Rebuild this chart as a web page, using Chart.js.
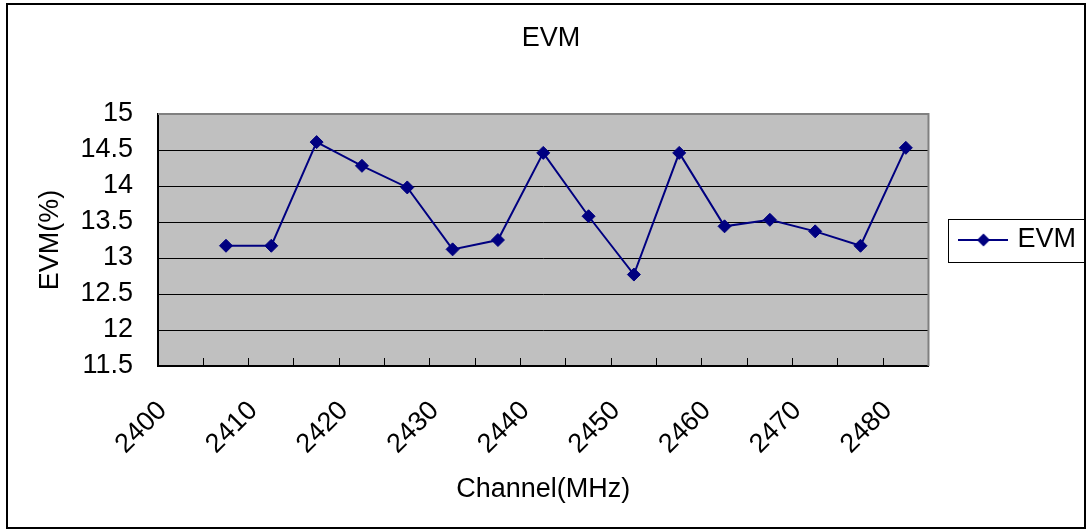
<!DOCTYPE html>
<html>
<head>
<meta charset="utf-8">
<script src="https://cdn.jsdelivr.net/npm/chart.js@4.4.0/dist/chart.umd.min.js"></script>
<style>
  html, body { margin: 0; padding: 0; background: #ffffff; }
  canvas { display: block; }
</style>
</head>
<body>
<canvas id="chart" width="1088" height="531"></canvas>
<script>
// ---- data ----
const channels = ['2400','2405','2410','2415','2420','2425','2430','2435','2440',
                  '2445','2450','2455','2460','2465','2470','2475','2480'];
const evmValues = [null, 13.17, 13.17, 14.61, 14.28, 13.98, 13.12, 13.25, 14.46,
                   13.58, 12.77, 14.46, 13.44, 13.53, 13.37, 13.17, 14.53];
const yMin = 11.5;
const yMax = 15;
const yStep = 0.5;
const seriesName = 'EVM';
const chartTitle = 'EVM';
const xTitle = 'Channel(MHz)';
const yTitle = 'EVM(%)';

// ---- styles ----
const FONT = "'Liberation Sans', Arial, sans-serif";
const NAVY = '#000080';
Chart.defaults.font.family = FONT;
Chart.defaults.font.size = 27;
Chart.defaults.color = '#000000';

// legend symbol: line with diamond
const legendSym = document.createElement('canvas');
legendSym.width = 50; legendSym.height = 16;
(function () {
  const g = legendSym.getContext('2d');
  g.strokeStyle = NAVY; g.lineWidth = 2;
  g.beginPath(); g.moveTo(0, 8); g.lineTo(50, 8); g.stroke();
  g.fillStyle = NAVY;
  g.beginPath(); g.moveTo(25, 1.5); g.lineTo(31.5, 8); g.lineTo(25, 14.5); g.lineTo(18.5, 8); g.closePath(); g.fill();
})();

const decor = {
  id: 'decor',
  beforeDraw(chart) {
    const {ctx, chartArea: a} = chart;
    ctx.save();
    ctx.fillStyle = '#ffffff';
    ctx.fillRect(0, 0, chart.width, chart.height);
    ctx.fillStyle = '#C0C0C0';
    ctx.fillRect(a.left, a.top, a.right - a.left, a.bottom - a.top);
    ctx.restore();
  },
  afterDraw(chart) {
    const {ctx, chartArea: a} = chart;
    ctx.save();
    ctx.strokeStyle = '#808080';
    ctx.lineWidth = 2;
    ctx.beginPath();
    ctx.moveTo(a.left, a.top); ctx.lineTo(a.right, a.top); ctx.lineTo(a.right, a.bottom);
    ctx.stroke();
    const lg = chart.legend;
    if (lg && lg.legendHitBoxes && lg.legendHitBoxes.length) {
      const h = lg.legendHitBoxes[0];
      ctx.strokeStyle = '#000000';
      ctx.lineWidth = 1;
      const cy = h.top + h.height / 2;
      ctx.strokeRect(Math.round(h.left - 15) + 0.5, Math.round(cy - 21.5) + 0.5,
                     Math.round(h.width + 24), 43);
    }
    ctx.strokeStyle = '#000000';
    ctx.lineWidth = 2;
    ctx.strokeRect(7, 4, 1078, 524);
    ctx.restore();
  }
};

new Chart(document.getElementById('chart'), {
  type: 'line',
  data: {
    labels: channels,
    datasets: [{
      label: seriesName,
      data: evmValues,
      borderColor: NAVY,
      backgroundColor: NAVY,
      borderWidth: 2,
      tension: 0,
      pointStyle: 'rectRot',
      pointRadius: 6.5,
      pointHoverRadius: 6.5,
      pointBackgroundColor: NAVY,
      pointBorderColor: NAVY,
      pointBorderWidth: 1
    }]
  },
  options: {
    responsive: false,
    animation: false,
    devicePixelRatio: 1,
    layout: { padding: { left: 16, right: 2, top: 0, bottom: 0 } },
    plugins: {
      title: {
        display: true,
        text: chartTitle,
        font: { size: 27, weight: 'normal' },
        color: '#000000',
        padding: { top: 22, bottom: 59.6 }
      },
      legend: {
        display: true,
        position: 'right',
        fullSize: false,
        labels: {
          usePointStyle: true,
          pointStyleWidth: 41,
          padding: 34.5,
          font: { size: 27 },
          color: '#000000',
          generateLabels: (chart) => [{
            text: seriesName,
            pointStyle: legendSym,
            fillStyle: NAVY,
            strokeStyle: NAVY,
            lineWidth: 0,
            hidden: false,
            datasetIndex: 0
          }]
        }
      },
      tooltip: { enabled: false }
    },
    scales: {
      x: {
        type: 'category',
        offset: true,
        grid: {
          display: true,
          offset: true,
          drawOnChartArea: false,
          drawTicks: true,
          tickLength: -8,
          color: '#000000',
          lineWidth: 1
        },
        border: { display: true, color: '#000000', width: 2 },
        ticks: {
          autoSkip: false,
          minRotation: 45,
          maxRotation: 45,
          padding: 37,
          labelOffset: -18,
          font: { size: 27 },
          color: '#000000',
          callback: function (value, index) {
            return index % 2 === 0 ? this.getLabelForValue(value) : '';
          }
        },
        title: {
          display: true,
          text: xTitle,
          font: { size: 27 },
          color: '#000000',
          padding: { top: 0, bottom: 25 }
        },
        afterFit: (s) => { s.height = 165; }
      },
      y: {
        min: yMin,
        max: yMax,
        ticks: {
          stepSize: yStep,
          padding: 25,
          font: { size: 27 },
          color: '#000000',
          callback: (v) => String(Number(v))
        },
        grid: {
          color: (c) => (c.tick && c.tick.value === yMax) ? '#808080' : '#000000',
          lineWidth: 1,
          drawTicks: false
        },
        border: { display: true, color: '#000000', width: 2 },
        title: {
          display: true,
          text: yTitle,
          font: { size: 27 },
          color: '#000000',
          padding: { top: 18, bottom: 0 }
        },
        afterFit: (s) => { s.width = 142; }
      }
    }
  },
  plugins: [decor]
});
</script>
</body>
</html>
